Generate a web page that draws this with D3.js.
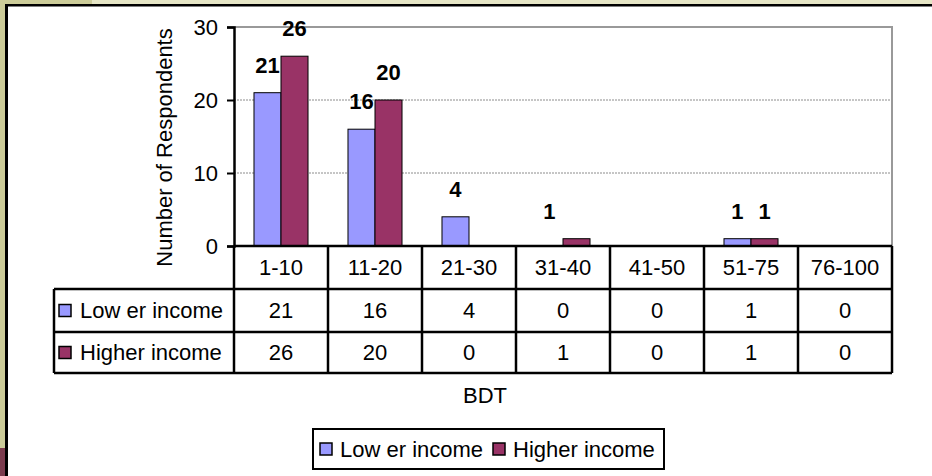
<!DOCTYPE html>
<meta charset="utf-8">
<style>
body { margin: 0; background: #fff; }
svg text { font-family: "Liberation Sans", Arial, sans-serif; fill: #000; }
.grid line { stroke: #8c8c8c; stroke-dasharray: 2,1; }
</style>
<svg width="932" height="476"></svg>
<script src="https://d3js.org/d3.v7.min.js"></script>
<script>
var categories = ["1-10", "11-20", "21-30", "31-40", "41-50", "51-75", "76-100"];
var seriesNames = ["Low er income", "Higher income"];
var lowerIncome = [21, 16, 4, 0, 0, 1, 0];
var higherIncome = [26, 20, 0, 1, 0, 1, 0];
var yTicks = [0, 10, 20, 30];
var colors = ["#9999ff", "#993366"];

var svg = d3.select("svg");
var fs = "22px";

// slide frame bits
svg.append("rect").attr("x", 0).attr("y", 0).attr("width", 932).attr("height", 5).attr("fill", "#e6e6c6");
svg.append("rect").attr("x", 0).attr("y", 0).attr("width", 92).attr("height", 5).attr("fill", "#cccc99");
svg.append("rect").attr("x", 0).attr("y", 0).attr("width", 6).attr("height", 448).attr("fill", "#cccc99");
svg.append("rect").attr("x", 0).attr("y", 448).attr("width", 6).attr("height", 28).attr("fill", "#7b3b4d");
svg.append("rect").attr("x", 5).attr("y", 4).attr("width", 927).attr("height", 2.5).attr("fill", "#000");
svg.append("rect").attr("x", 5).attr("y", 4).attr("width", 3).attr("height", 472).attr("fill", "#000");

var plotLeft = 234, plotRight = 892, plotTop = 27, zero = 246;
var x = d3.scaleBand().domain(categories).range([plotLeft, plotRight]);
var x1 = d3.scaleBand().domain(seriesNames).range([0, x.bandwidth()]).paddingOuter(0.74);
var y = d3.scaleLinear().domain([0, 30]).range([zero, plotTop]);

var data = categories.map(function(c, i) {
  return { cat: c, vals: [lowerIncome[i], higherIncome[i]] };
});

// gridlines
svg.append("g").attr("class", "grid")
  .selectAll("line").data([10, 20]).enter().append("line")
  .attr("x1", plotLeft).attr("x2", plotRight)
  .attr("y1", function(d) { return y(d); }).attr("y2", function(d) { return y(d); });

// plot area border top/right
svg.append("path")
  .attr("d", "M" + plotLeft + "," + y(30) + "H" + plotRight + "V" + zero)
  .attr("fill", "none").attr("stroke", "#999").attr("stroke-width", 2);

// bars
var groups = svg.selectAll(".cat").data(data).enter().append("g")
  .attr("transform", function(d) { return "translate(" + x(d.cat) + ",0)"; });

groups.selectAll("rect").data(function(d) { return d.vals; }).enter().append("rect")
  .attr("x", function(d, i) { return x1(seriesNames[i]); })
  .attr("width", x1.bandwidth())
  .attr("y", function(d) { return y(d); })
  .attr("height", function(d) { return zero - y(d); })
  .attr("fill", function(d, i) { return colors[i]; })
  .attr("stroke", "#000").attr("stroke-width", 1)
  .style("display", function(d) { return d > 0 ? null : "none"; });

groups.selectAll("text").data(function(d) { return d.vals; }).enter().append("text")
  .filter(function(d) { return d > 0; })
  .attr("x", function(d, i) { return x1(seriesNames[i]) + x1.bandwidth() / 2; })
  .attr("y", function(d) { return y(d) - 20; })
  .attr("text-anchor", "middle")
  .style("font-size", "22px").style("font-weight", "bold")
  .text(function(d) { return d; });

// y axis
var yAxis = svg.append("g")
  .attr("transform", "translate(" + plotLeft + ",0)")
  .call(d3.axisLeft(y).tickValues(yTicks).tickSize(7).tickPadding(9));
yAxis.select(".domain").attr("stroke", "#000").attr("stroke-width", 2.5);
yAxis.selectAll(".tick line").attr("stroke", "#000").attr("stroke-width", 2);
yAxis.selectAll(".tick text").style("font-size", fs).attr("dy", "0.34em")
  .style("font-family", "'Liberation Sans', Arial, sans-serif");

svg.append("text")
  .attr("transform", "translate(172," + ((25 + 270) / 2) + ") rotate(-90)")
  .attr("text-anchor", "middle")
  .style("font-size", fs)
  .text("Number of Respondents");

// data table
var rowY = [zero, 289, 332, 373];
var tableLeft = 54;
var tbl = svg.append("g").attr("stroke", "#000").attr("stroke-width", 2.5);
tbl.append("line").attr("x1", plotLeft).attr("x2", plotRight).attr("y1", zero).attr("y2", zero);
[rowY[1], rowY[2], rowY[3]].forEach(function(yy) {
  tbl.append("line").attr("x1", tableLeft).attr("x2", plotRight).attr("y1", yy).attr("y2", yy);
});
tbl.append("line").attr("x1", tableLeft).attr("x2", tableLeft).attr("y1", rowY[1]).attr("y2", rowY[3]);
categories.forEach(function(c) {
  tbl.append("line").attr("x1", x(c)).attr("x2", x(c)).attr("y1", zero).attr("y2", rowY[3]);
});
tbl.append("line").attr("x1", plotRight).attr("x2", plotRight).attr("y1", zero).attr("y2", rowY[3]);

svg.selectAll(".catlab").data(categories).enter().append("text")
  .attr("x", function(d) { return x(d) + x.bandwidth() / 2; })
  .attr("y", (rowY[0] + rowY[1]) / 2).attr("dy", "0.36em")
  .attr("text-anchor", "middle").style("font-size", fs)
  .text(function(d) { return d; });

[lowerIncome, higherIncome].forEach(function(vals, r) {
  var cy = (rowY[r + 1] + rowY[r + 2]) / 2;
  svg.append("rect").attr("x", 59).attr("y", cy - 6).attr("width", 12).attr("height", 12)
    .attr("fill", colors[r]).attr("stroke", "#000").attr("stroke-width", 1.5);
  svg.append("text").attr("x", 80).attr("y", cy).attr("dy", "0.36em")
    .style("font-size", fs).text(seriesNames[r]);
  svg.selectAll(".v" + r).data(vals).enter().append("text")
    .attr("x", function(d, i) { return x(categories[i]) + x.bandwidth() / 2; })
    .attr("y", cy).attr("dy", "0.36em")
    .attr("text-anchor", "middle").style("font-size", fs)
    .text(function(d) { return d; });
});

svg.append("text").attr("x", 485).attr("y", 395).attr("dy", "0.36em")
  .attr("text-anchor", "middle").style("font-size", fs).text("BDT");

// legend
var lg = svg.append("g");
lg.append("rect").attr("x", 313).attr("y", 429).attr("width", 351).attr("height", 40)
  .attr("fill", "#fff").attr("stroke", "#000").attr("stroke-width", 2);
var legX = [320, 493];
seriesNames.forEach(function(s, i) {
  lg.append("rect").attr("x", legX[i]).attr("y", 443).attr("width", 12).attr("height", 12)
    .attr("fill", colors[i]).attr("stroke", "#000").attr("stroke-width", 1.5);
  lg.append("text").attr("x", legX[i] + 20).attr("y", 449).attr("dy", "0.36em")
    .style("font-size", fs).text(s);
});
</script>
